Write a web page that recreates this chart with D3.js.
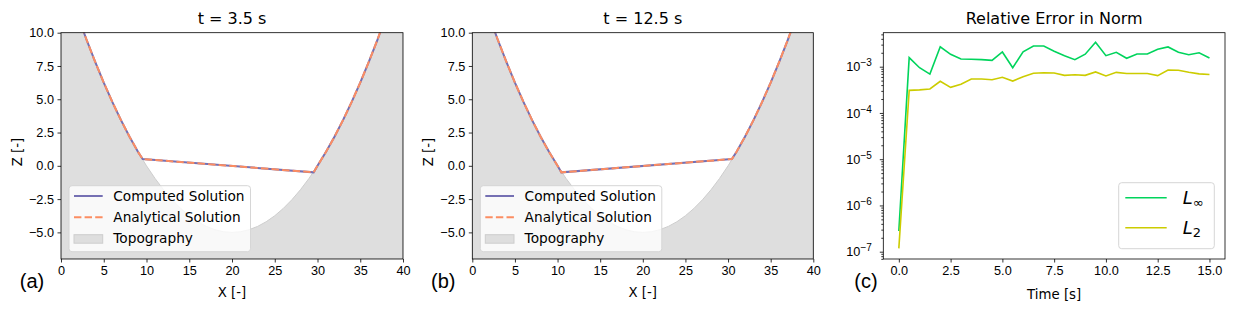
<!DOCTYPE html>
<html>
<head>
<meta charset="utf-8">
<script src="https://cdn.jsdelivr.net/npm/d3@7"></script>
<style>
  body { margin: 0; background: #fff; }
  svg { display: block; font-family: "DejaVu Sans", sans-serif; }
  .tick text { font-size: 12.7px; fill: #000; }
  .tick line { stroke: #000; stroke-width: 0.8; }
</style>
</head>
<body>
<svg width="1237" height="313"></svg>
<script>
// bed profile of the bowl, read at every metre
const topoX = [0, 1, 2, 3, 4, 5, 6, 7, 8, 9, 10, 11, 12, 13, 14, 15, 16, 17, 18, 19, 20,
  21, 22, 23, 24, 25, 26, 27, 28, 29, 30, 31, 32, 33, 34, 35, 36, 37, 38, 39, 40];
const topoZ = [15, 13.05, 11.2, 9.45, 7.8, 6.25, 4.8, 3.45, 2.2, 1.05, 0, -0.95, -1.8, -2.55, -3.2,
  -3.75, -4.2, -4.55, -4.8, -4.95, -5, -4.95, -4.8, -4.55, -4.2, -3.75, -3.2, -2.55, -1.8, -0.95,
  0, 1.05, 2.2, 3.45, 4.8, 6.25, 7.8, 9.45, 11.2, 13.05, 15];

// wet/dry front positions of the free surface
const shoreXa = [9.55, 29.55];
const shoreZa = [0.51, -0.49];
const shoreXb = [10.45, 30.45];
const shoreZb = [-0.49, 0.51];

// error history
const timeS = [0, 0.5, 1, 1.5, 2, 2.5, 3, 3.5, 4, 4.5, 5, 5.5, 6, 6.5, 7, 7.5, 8, 8.5, 9, 9.5,
  10, 10.5, 11, 11.5, 12, 12.5, 13, 13.5, 14, 14.5, 15];
const errLinf = [2.8e-7, 1.57e-3, 9.5e-4, 6.9e-4, 2.7e-3, 1.85e-3, 1.47e-3, 1.45e-3, 1.42e-3, 1.37e-3,
  2.08e-3, 9.5e-4, 2.1e-3, 2.8e-3, 2.8e-3, 2.15e-3, 1.73e-3, 1.42e-3, 1.86e-3, 3.37e-3,
  1.73e-3, 2.05e-3, 1.52e-3, 1.88e-3, 1.88e-3, 2.38e-3, 2.67e-3, 2.05e-3, 1.82e-3, 2.0e-3, 1.54e-3];
const errL2 = [1.18e-7, 3.08e-4, 3.15e-4, 3.3e-4, 4.83e-4, 3.58e-4, 4.16e-4, 5.42e-4, 5.4e-4, 5.24e-4,
  5.9e-4, 4.9e-4, 6.08e-4, 7.2e-4, 7.4e-4, 7.3e-4, 6.5e-4, 6.7e-4, 6.5e-4, 7.7e-4,
  6.3e-4, 7.55e-4, 7.1e-4, 7.1e-4, 7.1e-4, 6.4e-4, 8.5e-4, 8.4e-4, 7.6e-4, 7.0e-4, 6.8e-4];

const xTicks = [0, 5, 10, 15, 20, 25, 30, 35, 40];
const zTicks = [-5, -2.5, 0, 2.5, 5, 7.5, 10];
const tTicks = [0, 2.5, 5, 7.5, 10, 12.5, 15];

const svg = d3.select("svg");
const plotTop = 32.7, plotBottom = 259;

const drawFrame = function(g, left, right) {
  g.append("rect")
    .attr("x", left)
    .attr("y", plotTop)
    .attr("width", right - left)
    .attr("height", plotBottom - plotTop)
    .attr("fill", "none")
    .attr("stroke", "#000")
    .attr("stroke-width", 0.8);
};

const drawProfile = function(left, right, title, letter, shoreX, shoreZ, id) {
  const g = svg.append("g");

  const scaleX = d3.scaleLinear().domain([0, 40]).range([left, right]);
  const scaleZ = d3.scaleLinear().domain([-7, 10]).range([plotBottom, plotTop]);

  g.append("clipPath")
    .attr("id", id)
    .append("rect")
    .attr("x", left)
    .attr("y", plotTop)
    .attr("width", right - left)
    .attr("height", plotBottom - plotTop);

  const plot = g.append("g").attr("clip-path", `url(#${id})`);

  const topo = topoX.map((x, i) => [x, topoZ[i]]);

  plot.append("path")
    .datum(topo)
    .attr("fill", "#dedede")
    .attr("stroke", "#cdcdcd")
    .attr("stroke-width", 1)
    .attr("d", d3.area()
      .x(d => scaleX(d[0]))
      .y0(scaleZ(-7))
      .y1(d => scaleZ(d[1])));

  // surface = bed where dry, flat water plane where wet
  const surface = topo.filter(d => d[0] < shoreX[0])
    .concat(shoreX.map((x, i) => [x, shoreZ[i]]))
    .concat(topo.filter(d => d[0] > shoreX[1]));

  const line = d3.line().x(d => scaleX(d[0])).y(d => scaleZ(d[1]));

  plot.append("path")
    .datum(surface)
    .attr("fill", "none")
    .attr("stroke", "#7570b3")
    .attr("stroke-width", 2)
    .attr("d", line);

  plot.append("path")
    .datum(surface)
    .attr("fill", "none")
    .attr("stroke", "#fc8d62")
    .attr("stroke-width", 2)
    .attr("stroke-dasharray", "7.4,3.2")
    .attr("d", line);

  const axisX = d3.axisBottom(scaleX)
    .tickValues(xTicks)
    .tickSizeInner(3.5)
    .tickSizeOuter(0)
    .tickPadding(3.5)
    .tickFormat(d3.format("d"));
  const axisZ = d3.axisLeft(scaleZ)
    .tickValues(zTicks)
    .tickSizeInner(3.5)
    .tickSizeOuter(0)
    .tickPadding(3.5)
    .tickFormat(d3.format(".1f"));

  g.append("g").attr("transform", `translate(0,${plotBottom})`).call(axisX)
    .call(a => a.select(".domain").remove());
  g.append("g").attr("transform", `translate(${left},0)`).call(axisZ)
    .call(a => a.select(".domain").remove());

  drawFrame(g, left, right);

  g.append("text")
    .attr("x", (left + right) / 2)
    .attr("y", 24)
    .attr("text-anchor", "middle")
    .attr("font-size", 16)
    .text(title);

  g.append("text")
    .attr("x", (left + right) / 2)
    .attr("y", 297)
    .attr("text-anchor", "middle")
    .attr("font-size", 13.3)
    .text("X [-]");

  g.append("text")
    .attr("transform", `translate(${left - 44},152) rotate(-90)`)
    .attr("text-anchor", "middle")
    .attr("dy", "0.35em")
    .attr("font-size", 13.3)
    .text("Z [-]");

  g.append("text")
    .attr("x", left - 29)
    .attr("y", 288)
    .attr("text-anchor", "middle")
    .attr("font-family", "Liberation Sans, Arial, sans-serif")
    .attr("font-size", 20)
    .text(letter);

  // legend
  const lx = left + 8, ly = 185.7;
  const legend = g.append("g");
  legend.append("rect")
    .attr("x", lx)
    .attr("y", ly)
    .attr("width", 181.5)
    .attr("height", 66)
    .attr("rx", 3)
    .attr("fill", "#fff")
    .attr("fill-opacity", 0.8)
    .attr("stroke", "#d6d6d6")
    .attr("stroke-width", 1);

  const rows = [10.3, 31.5, 53];
  legend.append("line")
    .attr("x1", lx + 5).attr("x2", lx + 33.7)
    .attr("y1", ly + rows[0]).attr("y2", ly + rows[0])
    .attr("stroke", "#7570b3").attr("stroke-width", 2);
  legend.append("line")
    .attr("x1", lx + 5).attr("x2", lx + 33.7)
    .attr("y1", ly + rows[1]).attr("y2", ly + rows[1])
    .attr("stroke", "#fc8d62").attr("stroke-width", 2)
    .attr("stroke-dasharray", "7.4,3.2");
  legend.append("rect")
    .attr("x", lx + 5).attr("y", ly + rows[2] - 4)
    .attr("width", 28.7).attr("height", 8.5)
    .attr("fill", "#dedede").attr("stroke", "#cdcdcd").attr("stroke-width", 1);

  ["Computed Solution", "Analytical Solution", "Topography"].forEach((t, i) => {
    legend.append("text")
      .attr("x", lx + 44.3)
      .attr("y", ly + rows[i])
      .attr("dy", "0.35em")
      .attr("font-size", 13.7)
      .text(t);
  });
};

drawProfile(61, 403, "t = 3.5 s", "(a)", shoreXa, shoreZa, "clipA");
drawProfile(472.3, 813.3, "t = 12.5 s", "(b)", shoreXb, shoreZb, "clipB");

// error panel
const drawError = function() {
  const left = 883.3, right = 1225;
  const g = svg.append("g");

  const scaleT = d3.scaleLinear().domain([-0.75, 15.75]).range([left, right]);
  const scaleE = d3.scaleLog()
    .domain([Math.pow(10, -7.158), Math.pow(10, -2.265)])
    .range([plotBottom, plotTop]);

  const line = d3.line()
    .x((d, i) => scaleT(timeS[i]))
    .y(d => scaleE(d));

  g.append("path")
    .datum(errLinf)
    .attr("fill", "none")
    .attr("stroke", "#00d45c")
    .attr("stroke-width", 1.6)
    .attr("d", line);
  g.append("path")
    .datum(errL2)
    .attr("fill", "none")
    .attr("stroke", "#cccc00")
    .attr("stroke-width", 1.6)
    .attr("d", line);

  const axisT = d3.axisBottom(scaleT)
    .tickValues(tTicks)
    .tickSizeInner(3.5)
    .tickSizeOuter(0)
    .tickPadding(3.5)
    .tickFormat(d3.format(".1f"));
  g.append("g").attr("transform", `translate(0,${plotBottom})`).call(axisT)
    .call(a => a.select(".domain").remove());

  const [lo, hi] = scaleE.domain();
  const major = [], minor = [];
  for (let p = -8; p <= -2; p++) {
    for (let k = 1; k <= 9; k++) {
      const v = k * Math.pow(10, p);
      if (v < lo || v > hi) continue;
      if (k === 1) major.push(v); else minor.push(v);
    }
  }

  const axisMinor = d3.axisLeft(scaleE)
    .tickValues(minor)
    .tickSizeInner(2)
    .tickSizeOuter(0)
    .tickFormat("");
  g.append("g").attr("transform", `translate(${left},0)`).call(axisMinor)
    .call(a => a.select(".domain").remove())
    .selectAll(".tick line").attr("stroke-width", 0.6);

  const axisMajor = d3.axisLeft(scaleE)
    .tickValues(major)
    .tickSizeInner(3.5)
    .tickSizeOuter(0)
    .tickPadding(8)
    .tickFormat("");
  const yg = g.append("g").attr("transform", `translate(${left},0)`).call(axisMajor)
    .call(a => a.select(".domain").remove());

  yg.selectAll(".tick text").each(function(d) {
    const t = d3.select(this);
    const e = Math.round(Math.log10(d));
    t.append("tspan").text("10");
    t.append("tspan")
      .attr("dy", "-0.5em")
      .attr("font-size", 10)
      .text("\u2212" + Math.abs(e));
  });

  drawFrame(g, left, right);

  g.append("text")
    .attr("x", (left + right) / 2)
    .attr("y", 24)
    .attr("text-anchor", "middle")
    .attr("font-size", 16)
    .text("Relative Error in Norm");

  g.append("text")
    .attr("x", (left + right) / 2)
    .attr("y", 299)
    .attr("text-anchor", "middle")
    .attr("font-size", 13.3)
    .text("Time [s]");

  g.append("text")
    .attr("x", 866)
    .attr("y", 288)
    .attr("text-anchor", "middle")
    .attr("font-family", "Liberation Sans, Arial, sans-serif")
    .attr("font-size", 20)
    .text("(c)");

  // legend
  const lx = 1118.7, ly = 182.7;
  const legend = g.append("g");
  legend.append("rect")
    .attr("x", lx)
    .attr("y", ly)
    .attr("width", 95.6)
    .attr("height", 66)
    .attr("rx", 3)
    .attr("fill", "#fff")
    .attr("fill-opacity", 0.8)
    .attr("stroke", "#d6d6d6")
    .attr("stroke-width", 1);

  const entries = [
    { color: "#00d45c", sub: "\u221e", y: 15 },
    { color: "#cccc00", sub: "2", y: 45 }
  ];
  entries.forEach(e => {
    legend.append("line")
      .attr("x1", lx + 6.6).attr("x2", lx + 48)
      .attr("y1", ly + e.y).attr("y2", ly + e.y)
      .attr("stroke", e.color).attr("stroke-width", 1.6);
    const t = legend.append("text")
      .attr("x", lx + 64)
      .attr("y", ly + e.y)
      .attr("dy", "0.35em")
      .attr("font-size", 18);
    t.append("tspan").attr("font-style", "italic").text("L");
    t.append("tspan")
      .attr("dy", "0.25em")
      .attr("font-size", 13)
      .text(e.sub);
  });
};

drawError();
</script>
</body>
</html>
